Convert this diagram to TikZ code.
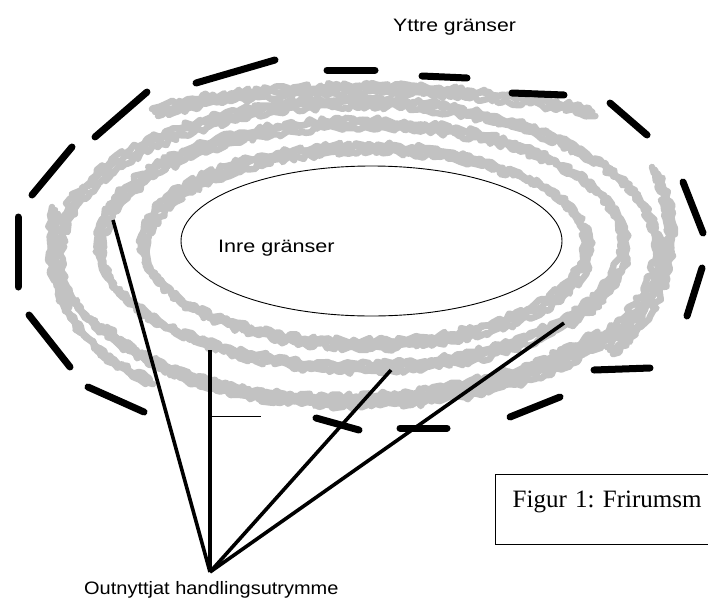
\documentclass[tikz,border=0pt]{standalone}
\usepackage{fontspec}
\setmainfont{Liberation Serif}
\newfontfamily\arialf{Liberation Sans}
\usetikzlibrary{decorations.pathmorphing,shapes.geometric}
\definecolor{scribgray}{RGB}{194,194,194}
\frenchspacing
\begin{document}
\begin{tikzpicture}[x=1pt,y=-1pt,
  dashseg/.style={line width=7pt, line cap=round, black},
  spoke/.style={line width=3.6pt, black},
  scrib/.style={line width=6.5pt, scribgray, line join=round, line cap=round,
    decorate, decoration={random steps, segment length=4pt, amplitude=3pt}},
  lab/.style={font=\arialf\fontsize{18}{21}\selectfont, inner sep=0pt}]
\pgfmathsetseed{7}
\useasboundingbox (0,0) rectangle (708,597);
\begin{scope}
\clip (0,0) rectangle (708,597);
% gray scribbled band
\foreach \dx/\dy in {0/0,3/4,-3/-3}{
  \draw[scrib] (358+\dx,252+\dy) ellipse [x radius=300, y radius=150];
  \draw[scrib] (362+\dx,245+\dy) ellipse [x radius=262, y radius=122];
  \draw[scrib] (366+\dx,246+\dy) ellipse [x radius=222, y radius=98];
  \draw[scrib] (155+\dx,112+\dy) .. controls (250+\dx,82+\dy) and (450+\dx,80+\dy) .. (592+\dx,112+\dy);
  \draw[scrib] (110+\dx,330+\dy) .. controls (200+\dx,425+\dy) and (460+\dx,420+\dy) .. (600+\dx,335+\dy);
  \draw[scrib] (55+\dx,210+\dy) .. controls (40+\dx,300+\dy) and (90+\dx,360+\dy) .. (150+\dx,380+\dy);
  \draw[scrib] (655+\dx,170+\dy) .. controls (690+\dx,240+\dy) and (660+\dx,310+\dy) .. (610+\dx,350+\dy);
}
% inner ellipse
\node (inner) [draw, ellipse, line width=0.9pt, fill=white, minimum width=381pt, minimum height=150pt, inner sep=0pt] at (371.5,241) {};
\node (inre) [lab, anchor=base west] at (218,252) {\scalebox{1.2}[1]{Inre gränser}};
% dashed outer boundary
\foreach \ax/\ay/\bx/\by [count=\i] in {
  196/83/275/60, 327/70/375/70, 422/76/467/78, 512/93/564/95,
  610/103/647/135, 683/182/703/233, 702/268/687/316, 594/370/650/368,
  510/417/560/397, 400/428/447/428, 316/418/359/430, 88/387/144/412,
  29/315/70/367, 18/217/18/287, 32/195/72/147, 95/137/147/92}{
  \coordinate (d\i a) at (\ax,\ay);
  \coordinate (d\i b) at (\bx,\by);
  \draw[dashseg] (d\i a) -- (d\i b);
}
% spokes
\coordinate (apex) at (210,572);
\coordinate (e1) at (113,220);
\coordinate (e2) at (210,350);
\coordinate (e3) at (391,370);
\coordinate (e4) at (564,323);
\foreach \e in {e1,e2,e3,e4}{\draw[spoke] (apex) -- (\e);}
\coordinate (u1) at (212,416);
\coordinate (u2) at (261,416);
\draw[line width=0.8pt] (u1) -- (u2);
% labels
\node (yttre) [lab, anchor=base west] at (393,31) {\scalebox{1.18}[1]{Yttre gränser}};
\node (outn) [lab, anchor=base west] at (84,594) {\scalebox{1.11}[1]{Outnyttjat handlingsutrymme}};
% caption box
\node (cap) [draw, line width=1.4pt, anchor=north west, align=left,
  inner xsep=17pt, inner ysep=0pt, text height=33pt, text depth=37pt,
  text width=226pt, font=\fontsize{25}{29}\selectfont] at (495,474) {Figur 1: Frirumsm};
\end{scope}
\end{tikzpicture}
\end{document}
